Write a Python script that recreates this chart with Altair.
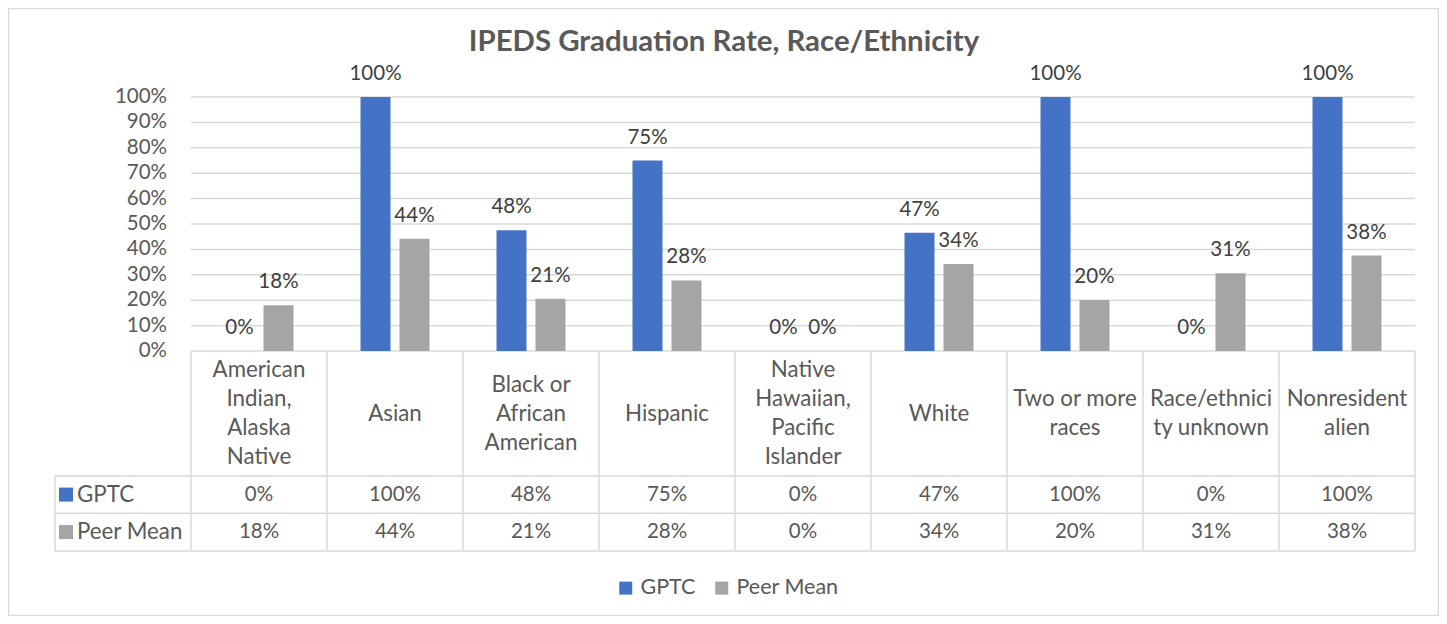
import altair as alt
import pandas as pd

# ---------------- data ----------------
categories = [
    "American Indian, Alaska Native",
    "Asian",
    "Black or African American",
    "Hispanic",
    "Native Hawaiian, Pacific Islander",
    "White",
    "Two or more races",
    "Race/ethnicity unknown",
    "Nonresident alien",
]
header_labels = [
    ["American", "Indian,", "Alaska", "Native"],
    ["Asian"],
    ["Black or", "African", "American"],
    ["Hispanic"],
    ["Native", "Hawaiian,", "Pacific", "Islander"],
    ["White"],
    ["Two or more", "races"],
    ["Race/ethnici", "ty unknown"],
    ["Nonresident", "alien"],
]
series = ["GPTC", "Peer Mean"]
gptc_values = [0, 100, 47.6, 75, 0, 46.6, 100, 0, 100]
peer_values = [18, 44.2, 20.6, 27.8, 0, 34.3, 20.1, 30.6, 37.6]
y_tick_values = [0, 10, 20, 30, 40, 50, 60, 70, 80, 90, 100]
y_tick_labels = ["0%", "10%", "20%", "30%", "40%", "50%", "60%", "70%", "80%", "90%", "100%"]
series_colors = ["#4472C4", "#A5A5A5"]
title_text = "IPEDS Graduation Rate, Race/Ethnicity"

# ---------------- layout / style ----------------
FONT = "Lato"
TEXT_GREY = "#595959"
LABEL_GREY = "#404040"
LINE_GREY = "#D9D9D9"
NUM_SIZE = 20.5
WORD_SIZE = 22.3
LABEL_COL = " "
x_domain = [LABEL_COL] + categories
HEADER_BOTTOM = -49.2
ROW1_BOTTOM = -63.8
TABLE_BOTTOM = -78.7
HEADER_MID = HEADER_BOTTOM / 2
HEADER_LINE_STEP = 11.42  # one text line of the header, in y units
ROW_MIDS = [(HEADER_BOTTOM + ROW1_BOTTOM) / 2, (ROW1_BOTTOM + TABLE_BOTTOM) / 2]

x_scale = alt.Scale(domain=x_domain, paddingInner=0, paddingOuter=0)
y_scale = alt.Scale(domain=[TABLE_BOTTOM, 100], nice=False, zero=False)
off_scale = alt.Scale(domain=series, paddingInner=0.23, paddingOuter=0.86)

# ---------------- tables ----------------
rows = []
for s, vals in zip(series, [gptc_values, peer_values]):
    for c, v in zip(categories, vals):
        rows.append({"cat": c, "series": s, "value": v, "label": f"{v:.0f}%"})
bars_df = pd.DataFrame(rows)

table_vals = bars_df.copy()
table_vals["ymid"] = table_vals["series"].map(dict(zip(series, ROW_MIDS)))

grid_df = pd.DataFrame({"tick": y_tick_values, "start": categories[0], "end": categories[-1]})
ylab_df = pd.DataFrame({"tick": y_tick_values, "label": y_tick_labels, "col": LABEL_COL})
hline_df = pd.DataFrame({"y": [HEADER_BOTTOM, ROW1_BOTTOM, TABLE_BOTTOM],
                         "start": LABEL_COL, "end": categories[-1]})
vline_df = pd.DataFrame({"cat": categories, "top": 0.0, "bottom": TABLE_BOTTOM})
vline_last_df = pd.DataFrame({"cat": [categories[-1]], "top": [0.0], "bottom": [TABLE_BOTTOM]})
vline_left_df = pd.DataFrame({"cat": [LABEL_COL], "top": [HEADER_BOTTOM], "bottom": [TABLE_BOTTOM]})

hrows = []
for c, lines in zip(categories, header_labels):
    n = len(lines)
    for i, t in enumerate(lines):
        hrows.append({"cat": c, "text": t, "y": HEADER_MID + ((n - 1) / 2 - i) * HEADER_LINE_STEP})
header_df = pd.DataFrame(hrows)
rowlab_df = pd.DataFrame({"col": LABEL_COL, "series": series, "y": ROW_MIDS})

X = lambda f, **kw: alt.X(f, scale=x_scale, axis=None, **kw)
Y = lambda f: alt.Y(f, scale=y_scale, axis=None)

border = alt.Chart(pd.DataFrame({"a": [0]})).mark_rect(
    fill=None, stroke=LINE_GREY, strokeWidth=1.5
).encode(x=alt.value(-46.5), x2=alt.value(1383.5), y=alt.value(-88.5), y2=alt.value(518.5))

grid = alt.Chart(grid_df).mark_rule(color=LINE_GREY, strokeWidth=1.5).encode(
    x=X("start:N", bandPosition=0), x2=alt.X2("end", bandPosition=1), y=Y("tick:Q")
)
hlines = alt.Chart(hline_df).mark_rule(color=LINE_GREY, strokeWidth=1.5).encode(
    x=X("start:N", bandPosition=0), x2=alt.X2("end", bandPosition=1), y=Y("y:Q")
)
vlines = alt.Chart(vline_df).mark_rule(color=LINE_GREY, strokeWidth=1.5).encode(
    x=X("cat:N", bandPosition=0), y=Y("top:Q"), y2="bottom:Q"
)
vline_last = alt.Chart(vline_last_df).mark_rule(color=LINE_GREY, strokeWidth=1.5).encode(
    x=X("cat:N", bandPosition=1), y=Y("top:Q"), y2="bottom:Q"
)
vline_left = alt.Chart(vline_left_df).mark_rule(color=LINE_GREY, strokeWidth=1.5).encode(
    x=X("cat:N", bandPosition=0), y=Y("top:Q"), y2="bottom:Q"
)

bars = alt.Chart(bars_df).mark_bar().encode(
    x=X("cat:N"),
    xOffset=alt.XOffset("series:N", scale=off_scale),
    y=Y("value:Q"),
    y2=alt.datum(0),
    color=alt.Color(
        "series:N",
        scale=alt.Scale(domain=series, range=series_colors),
        legend=alt.Legend(
            orient="none", legendX=560, legendY=480, direction="horizontal", title=None,
            symbolType="square", symbolSize=169, symbolStrokeWidth=0, symbolOpacity=1,
            labelFontSize=21.5, labelFont=FONT, labelColor=TEXT_GREY, columnPadding=15,
            labelOffset=4, padding=0,
        ),
    ),
)

bar_labels = alt.Chart(bars_df).mark_text(
    baseline="bottom", dy=-13, fontSize=NUM_SIZE, font=FONT, color=LABEL_GREY
).encode(
    x=X("cat:N"), xOffset=alt.XOffset("series:N", scale=off_scale), y=Y("value:Q"), text="label:N"
)

ylabels = alt.Chart(ylab_df).mark_text(
    align="right", baseline="middle", dx=-24, fontSize=NUM_SIZE, font=FONT, color=TEXT_GREY
).encode(x=X("col:N", bandPosition=1), y=Y("tick:Q"), text="label:N")

headers = alt.Chart(header_df).mark_text(
    baseline="middle", align="center", fontSize=WORD_SIZE, font=FONT, color=TEXT_GREY
).encode(x=X("cat:N"), y=Y("y:Q"), text="text:N")

cells = alt.Chart(table_vals).mark_text(
    baseline="middle", align="center", fontSize=NUM_SIZE, font=FONT, color=TEXT_GREY
).encode(x=X("cat:N"), y=Y("ymid:Q"), text="label:N")

row_squares = alt.Chart(rowlab_df).mark_square(size=196, opacity=1, xOffset=11).encode(
    x=X("col:N", bandPosition=0), y=Y("y:Q"),
    color=alt.Color("series:N", scale=alt.Scale(domain=series, range=series_colors), legend=None),
)
row_labels = alt.Chart(rowlab_df).mark_text(
    align="left", baseline="middle", dx=22, fontSize=WORD_SIZE, font=FONT, color=TEXT_GREY
).encode(x=X("col:N", bandPosition=0), y=Y("y:Q"), text="series:N")

chart = alt.layer(
    border, grid, hlines, vlines, vline_last, vline_left, bars, bar_labels,
    ylabels, headers, cells, row_squares, row_labels
).properties(
    width=1360, height=454,
    title=alt.TitleParams(title_text, font=FONT, fontSize=29.4, fontWeight="bold",
                          color=TEXT_GREY, anchor="middle", dx=-11, offset=-50),
    autosize=alt.AutoSizeParams(type="none"),
    padding={"left": 47, "top": 89, "right": 24, "bottom": 65},
).configure_view(strokeWidth=0)

chart.save("out.html", embed_options={"renderer": "svg", "actions": False})
